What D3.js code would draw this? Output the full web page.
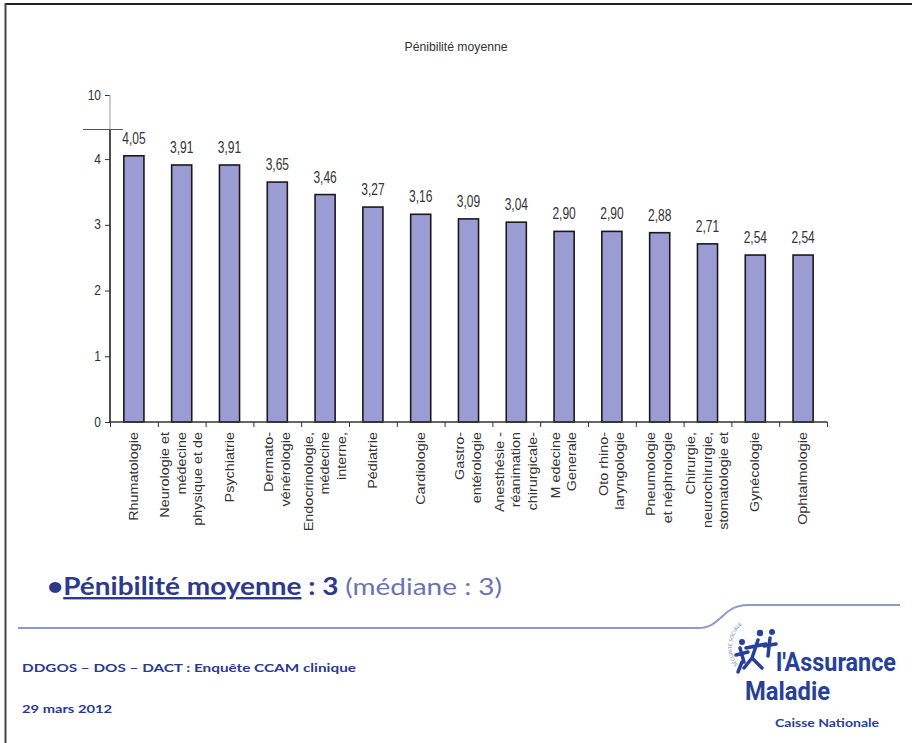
<!DOCTYPE html>
<html><head><meta charset="utf-8">
<script src="https://cdn.jsdelivr.net/npm/d3@7"></script>
<style>html,body{margin:0;padding:0;background:#fff}svg{display:block}</style>
</head><body>
<script>
// ---- data ----
const title = "Pénibilité moyenne";
const categories = [
  "Rhumatologie",
  "Neurologie et|médecine|physique et de",
  "Psychiatrie",
  "Dermato-|vénérologie",
  "Endocrinologie,|médecine|interne,",
  "Pédiatrie",
  "Cardiologie",
  "Gastro-|entérologie",
  "Anesthésie -|réanimation|chirurgicale-",
  "M edecine|Generale",
  "Oto rhino-|laryngologie",
  "Pneumologie|et néphrologie",
  "Chirurgie,|neurochirurgie,|stomatologie et",
  "Gynécologie",
  "Ophtalmologie"
];
const values = [4.05, 3.91, 3.91, 3.65, 3.46, 3.27, 3.16, 3.09, 3.04, 2.90, 2.90, 2.88, 2.71, 2.54, 2.54];
const yTicks = [0, 1, 2, 3, 4, 10];
const yBreak = 4.45;

const W = 912, H = 743;
const svg = d3.select("body").append("svg").attr("width", W).attr("height", H);
svg.append("rect").attr("width", W).attr("height", H).attr("fill", "#fff");

// frame
svg.append("line").attr("x1", 5).attr("x2", W).attr("y1", 4).attr("y2", 4).attr("stroke", "#222").attr("stroke-width", 2);
svg.append("line").attr("x1", 5.5).attr("x2", 5.5).attr("y1", 3).attr("y2", H).attr("stroke", "#444").attr("stroke-width", 2);

// scales
const x = d3.scaleBand().domain(categories).range([110, 827]).paddingInner(0.58).paddingOuter(0.29);
const xIdx = d3.scaleLinear().domain([0, categories.length]).range([110, 827]);
const y = d3.scaleLinear().domain([0, yBreak, 10]).range([422, 129.5, 95]);
const fmt = v => d3.format(".2f")(v).replace(".", ",");

const g = svg.append("g").attr("font-family", "Liberation Sans, Arial, sans-serif").attr("fill", "#333");

// title
g.append("text").attr("transform", `translate(456,51) scale(1,1.2)`).attr("text-anchor", "middle")
  .attr("font-size", 11).attr("textLength", 103).attr("lengthAdjust", "spacingAndGlyphs").attr("fill", "#333").text(title);

// bars
g.selectAll("rect.bar").data(values).join("rect").attr("class", "bar")
  .attr("x", (d, i) => x(categories[i])).attr("width", x.bandwidth())
  .attr("y", d => y(d)).attr("height", d => y(0) - y(d))
  .attr("fill", "#9c9cd4").attr("stroke", "#1a1a1a").attr("stroke-width", 1.6);

// value labels
g.selectAll("text.val").data(values).join("text").attr("class", "val")
  .attr("transform", (d, i) => `translate(${x(categories[i]) + x.bandwidth() / 2},${y(d) - 12}) scale(1,1.3)`)
  .attr("text-anchor", "middle").attr("font-size", 12).attr("fill", "#333").text(d => fmt(d));

// y axis
const yAxis = d3.axisLeft(y).tickValues(yTicks).tickSize(5).tickPadding(4).tickFormat(d3.format("d"));
const ya = g.append("g").attr("transform", "translate(110,0)").call(yAxis);
ya.select(".domain").remove();
ya.selectAll(".tick line").attr("stroke", "#333");
ya.selectAll(".tick text").attr("font-size", 12).attr("fill", "#333").attr("font-family", "Liberation Sans, Arial, sans-serif")
  .attr("dy", null).attr("x", 0).attr("transform", "translate(-9,4) scale(1,1.25)");
g.append("line").attr("x1", 110).attr("x2", 110).attr("y1", y(10)).attr("y2", y(yBreak)).attr("stroke", "#999").attr("stroke-width", 1);
g.append("line").attr("x1", 110).attr("x2", 110).attr("y1", y(yBreak)).attr("y2", y(0)).attr("stroke", "#222").attr("stroke-width", 1.6);
g.append("line").attr("x1", 83).attr("x2", 123).attr("y1", y(yBreak)).attr("y2", y(yBreak)).attr("stroke", "#555").attr("stroke-width", 1.2);

// x axis
const xAxis = d3.axisBottom(xIdx).tickValues(d3.range(categories.length + 1)).tickSize(5).tickFormat("");
const xa = g.append("g").attr("transform", `translate(0,${y(0)})`).call(xAxis);
xa.select(".domain").attr("stroke", "#333").attr("stroke-width", 1.4).attr("d", `M110,0H827`);
xa.selectAll(".tick line").attr("stroke", "#333");

// category labels (rotated, multi-line)
const lh = 16.5;
categories.forEach(c => {
  const lines = c.split("|");
  const cx = x(c) + x.bandwidth() / 2;
  lines.forEach((ln, j) => {
    const lx = cx + (j - (lines.length - 1) / 2) * lh + 4;
    g.append("text").attr("transform", `translate(${lx},432) rotate(-90) scale(1.2,1)`)
      .attr("text-anchor", "end").attr("font-size", 12).attr("fill", "#333").text(ln);
  });
});

// bottom summary text
const sumT = svg.append("text").attr("x", 47).attr("y", 595).attr("font-family", "Lato, 'Open Sans', sans-serif")
  .attr("font-size", 24).attr("textLength", 455).attr("lengthAdjust", "spacingAndGlyphs");
sumT.append("tspan").attr("fill", "#2d3a8c").attr("font-weight", "bold").text("•");
sumT.append("tspan").attr("fill", "#2d3a8c").attr("font-weight", "bold").style("text-decoration", "underline").text("Pénibilité moyenne");
sumT.append("tspan").attr("fill", "#2d3a8c").attr("font-weight", "bold").text(" : 3 ");
sumT.append("tspan").attr("fill", "#6a73b3").text("(médiane : 3)");

// footer line with curve
svg.append("path").attr("d", "M18,628 H698 C722,628 722,605 748,605 H900")
  .attr("fill", "none").attr("stroke", "#8e9acb").attr("stroke-width", 2);

svg.append("text").attr("x", 22).attr("y", 672).attr("font-family", "Lato, sans-serif").attr("font-weight", "bold")
  .attr("font-size", 11).attr("fill", "#2b3990").attr("textLength", 334).attr("lengthAdjust", "spacingAndGlyphs")
  .text("DDGOS – DOS – DACT : Enquête CCAM  clinique");
svg.append("text").attr("x", 22).attr("y", 713).attr("font-family", "Lato, sans-serif").attr("font-weight", "bold")
  .attr("font-size", 11).attr("fill", "#2b3990").attr("textLength", 90).attr("lengthAdjust", "spacingAndGlyphs")
  .text("29 mars 2012");

// logo
const blue = "#27409a";
const logo = svg.append("g");
logo.append("text").attr("x", 776).attr("y", 671).attr("font-family", "Roboto, 'Liberation Sans', sans-serif").attr("font-weight", "bold")
  .attr("font-size", 26).attr("fill", blue).attr("textLength", 120).attr("lengthAdjust", "spacingAndGlyphs").text("l'Assurance");
logo.append("text").attr("x", 745).attr("y", 700).attr("font-family", "Roboto, 'Liberation Sans', sans-serif").attr("font-weight", "bold")
  .attr("font-size", 26).attr("fill", blue).attr("textLength", 85).attr("lengthAdjust", "spacingAndGlyphs").text("Maladie");
logo.append("text").attr("x", 775).attr("y", 727).attr("font-family", "Lato, sans-serif").attr("font-weight", "bold")
  .attr("font-size", 11).attr("fill", blue).attr("textLength", 104).attr("lengthAdjust", "spacingAndGlyphs").text("Caisse Nationale");
// stylised figures
const fig = logo.append("g").attr("stroke", blue).attr("fill", "none").attr("stroke-linecap", "round").attr("stroke-width", 3.5);
fig.append("path").attr("d", "M740,648 L744,662 M736,655 L748,652 M742,662 L738,672");
fig.append("path").attr("d", "M758,640 L752,658 L744,668 M752,658 L762,668 M746,648 L766,644");
fig.append("path").attr("d", "M770,638 L768,656 M764,646 L776,644");
logo.append("circle").attr("cx", 742).attr("cy", 642).attr("r", 3).attr("fill", blue);
logo.append("circle").attr("cx", 760).attr("cy", 633).attr("r", 3.2).attr("fill", blue);
logo.append("circle").attr("cx", 772).attr("cy", 632).attr("r", 3).attr("fill", blue);
logo.append("path").attr("id", "arc").attr("d", "M738,665 A30,30 0 0 1 760,617").attr("fill", "none");
logo.append("text").attr("font-family", "Lato, sans-serif").attr("font-size", 5).attr("fill", "#6a7bc0")
  .append("textPath").attr("href", "#arc").text("SÉCURITÉ SOCIALE");
</script>
</body></html>
